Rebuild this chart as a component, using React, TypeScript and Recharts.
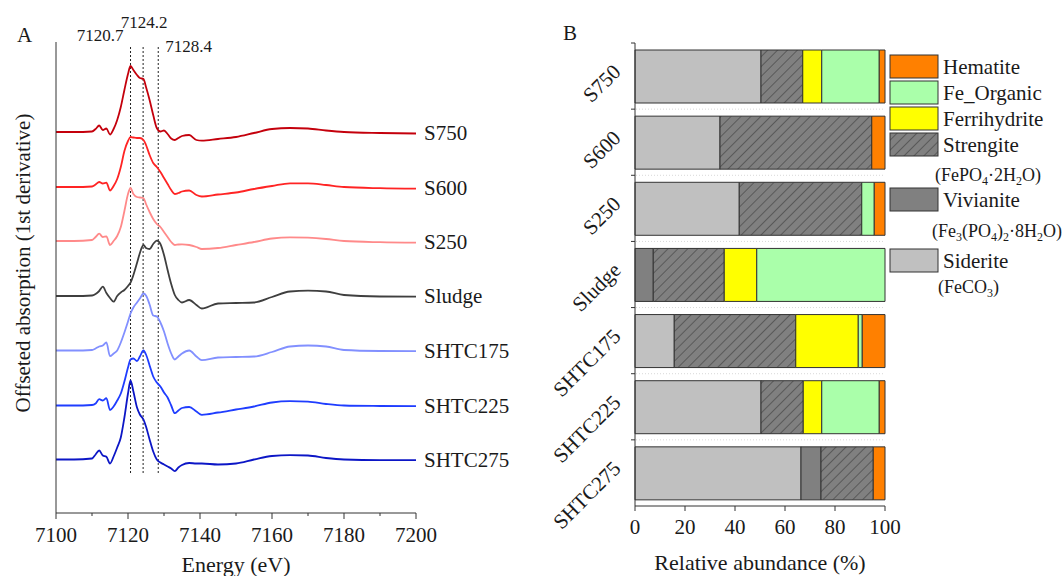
import React from "react";
import { Bar, BarChart, LabelList, Line, LineChart, ReferenceLine, XAxis, YAxis } from "recharts";

const FONT = '"Liberation Serif", "Times New Roman", serif';
const AXIS_COLOR = "#333";
const TEXT_COLOR = "#1a1a1a";

// ---- panel A: first-derivative XANES spectra (arbitrary units, offset per sample)
const ENERGY = [
  7100, 7105, 7110, 7111, 7112, 7113, 7114, 7115, 7116, 7117, 7118, 7119, 7120, 7120.7, 7121.5, 7122.5, 7123.3,
  7124.3, 7125, 7126, 7127, 7128, 7129, 7130, 7131, 7132, 7133, 7134, 7135, 7137, 7139, 7140.5, 7145, 7150, 7155,
  7160, 7165, 7170, 7175, 7180, 7190, 7200,
];

const S750 = [
  0, 0, 0.5, 3, 6.5, 2, 3.5, -2.5, 3, 12, 25, 42, 58, 66, 62, 57, 54, 53, 45, 32, 17, 4, 0.5, 1.5, -2, -6.5, -8, -6,
  -4, -3, -8, -8.7, -7, -5, -1, 3, 4, 3.5, 1.5, 0, -1, -1.5,
];
const S600 = [
  0, 0, 0.5, 2.5, 5, 3.5, 4.3, -3.5, 1, 8, 20, 36, 46, 50, 49.5, 49, 49, 47, 42, 32, 24, 20, 15, 9, 3, -3, -7, -6,
  -4.5, -3.5, -8, -9.5, -7.5, -5.5, -2, 1, 3.7, 3.7, 2, 0, -1.2, -1.7,
];
const S250 = [
  0, 0, 1, 4, 7.3, 4, 4.7, -4, 0, 5, 14, 30, 47, 53, 47, 44, 43.5, 43, 37, 29, 22, 17, 14, 9, 4, -1, -4, -3.5, -3.3,
  -4, -6, -8, -7, -4, -1, 2.5, 3.7, 3.3, 2, 0, -1.2, -1.7,
];
const SLUDGE = [
  0, 0, 0.5, 2, 5, 9.3, 3, -2, -5.7, 0, 3.5, 6, 10, 13.3, 21, 33, 43, 51, 48, 47, 52, 55.3, 52, 41, 26, 12, 1, -4,
  -6.5, -4, -9, -12.5, -7.5, -7, -6.5, -1, 4.5, 5.3, 4.5, 1, -0.5, -0.7,
];
const SHTC175 = [
  0, 0, 0.5, 2, 4, 5, 8, -5.7, -3, 0, 8, 18, 29, 37, 43, 48, 52, 57, 55, 46, 35, 34, 28, 19, 7, -3, -9, -6, -3, 0, -6,
  -9.7, -7, -6.5, -6, -1.5, 4, 5, 4, 0.5, -0.5, -0.7,
];
const SHTC225 = [
  0, 0, 0.5, 2, 6.3, 5, 7.3, -4.5, -1, 5, 12, 24, 38, 46, 47, 44.5, 49, 55, 51, 40, 29, 23, 19, 13, 8, 0, -7.7, -5,
  -2.5, -1.5, -6, -9.3, -7, -4, -1, 3, 4.3, 3.8, 1.5, 0, -0.5, -0.7,
];
const SHTC275 = [
  0, 0, 1, 5, 9, 4, 2.7, -4, 3, 12, 22, 42, 66, 79, 68, 52, 45, 40, 33, 20, 8, 0, -3, -5, -7, -9, -11.7, -8, -5.5,
  -3.5, -4, -4, -5, -4, 0, 3.5, 4.3, 4, 1.5, 0, -0.7, -0.7,
];

const SPECTRUM_NAMES = ["S750", "S600", "S250", "Sludge", "SHTC175", "SHTC225", "SHTC275"];
const SPECTRUM_VALUES = [S750, S600, S250, SLUDGE, SHTC175, SHTC225, SHTC275];
const SPECTRUM_OFFSETS = [381, 326, 272, 217, 162.5, 107.5, 53.5];
const SPECTRUM_COLORS = ["#c4000c", "#ff2424", "#ff8a8a", "#3f3f3f", "#8290ff", "#1f3dff", "#0c16c6"];

const EDGE_ENERGIES = [7120.7, 7124.2, 7128.4];
const EDGE_LINE_SPAN = [40, 466];
const ENERGY_TICKS = [7100, 7110, 7120, 7130, 7140, 7150, 7160, 7170, 7180, 7190, 7200];

// ---- panel B: linear combination fitting results (%)
const SAMPLES = ["S750", "S600", "S250", "Sludge", "SHTC175", "SHTC225", "SHTC275"];
const SIDERITE = [50.4, 34.0, 41.7, 0, 15.7, 50.4, 66.4];
const VIVIANITE = [0, 0, 0, 7.3, 0, 0, 8.0];
const STRENGITE = [16.7, 60.7, 49.0, 28.4, 48.6, 16.9, 20.9];
const FERRIHYDRITE = [7.6, 0, 0, 13.0, 25.0, 7.4, 0];
const FE_ORGANIC = [23.0, 0, 5.0, 51.3, 1.6, 23.0, 0];
const HEMATITE = [2.3, 5.3, 4.3, 0, 9.1, 2.3, 4.7];
const ABUNDANCE_TICKS = [0, 20, 40, 60, 80, 100];

const PHASES = ["Siderite", "Vivianite", "Strengite", "Ferrihydrite", "Fe_Organic", "Hematite"];
const PHASE_VALUES = [SIDERITE, VIVIANITE, STRENGITE, FERRIHYDRITE, FE_ORGANIC, HEMATITE];
const PHASE_FILLS = ["#c0c0c0", "#808080", "url(#hatch)", "#ffff00", "#aaffaa", "#ff8000"];

const spectraRows = ENERGY.map((energy, i) => {
  const row: Record<string, number> = { energy };
  SPECTRUM_NAMES.forEach((name, k) => {
    row[name] = SPECTRUM_VALUES[k][i] + SPECTRUM_OFFSETS[k];
  });
  return row;
});

const abundanceRows = SAMPLES.map((sample, i) => {
  const row: Record<string, string | number> = { sample };
  PHASES.forEach((phase, k) => {
    row[phase] = PHASE_VALUES[k][i];
  });
  return row;
});

const BAND_HALF = (506 - 43) / SAMPLES.length / 2;

function EnergyTick({ x, y, payload }: any) {
  const major = payload.value % 20 === 0;
  return (
    <g>
      <line x1={x} x2={x} y1={y} y2={y + (major ? 6 : 3)} stroke={AXIS_COLOR} />
      {major && (
        <text x={x} y={y + 29} textAnchor="middle" fontSize={21} fontFamily={FONT} fill={TEXT_COLOR}>
          {payload.value}
        </text>
      )}
    </g>
  );
}

function AbundanceTick({ x, y, payload }: any) {
  return (
    <g>
      <line x1={x} x2={x} y1={y} y2={y + 5} stroke={AXIS_COLOR} />
      <text x={x} y={y + 28} textAnchor="middle" fontSize={21} fontFamily={FONT} fill={TEXT_COLOR}>
        {payload.value}
      </text>
    </g>
  );
}

function SampleTick({ x, y, payload, index }: any) {
  const top = y - BAND_HALF;
  const tx = x - 13;
  const ty = y - 3;
  return (
    <g>
      <line x1={x - 4} x2={x} y1={top} y2={top} stroke={AXIS_COLOR} />
      {index > 0 && <line x1={x + 1} x2={x + 250} y1={top} y2={top} stroke="#d8d8d8" strokeDasharray="1 2" />}
      <text
        x={tx}
        y={ty}
        transform={`rotate(-45 ${tx} ${ty})`}
        textAnchor="end"
        fontSize={21}
        fontFamily={FONT}
        fill={TEXT_COLOR}
      >
        {payload.value}
      </text>
    </g>
  );
}

function endLabel(name: string) {
  return (props: any) => {
    if (props.index !== ENERGY.length - 1) return null;
    const px = props.viewBox?.x ?? props.x;
    const py = props.viewBox?.y ?? props.y;
    return (
      <text x={px + 8} y={py} dy="0.3em" fontSize={21} fontFamily={FONT} fill={TEXT_COLOR}>
        {name}
      </text>
    );
  };
}

const EDGE_LABEL_STYLE = [
  { anchor: "end", dx: -7, y: 41 },
  { anchor: "middle", dx: 1, y: 28 },
  { anchor: "start", dx: 7, y: 52 },
];

function edgeLabel(k: number) {
  return (props: any) => {
    const vx = props.viewBox?.x ?? 0;
    const s = EDGE_LABEL_STYLE[k];
    return (
      <text x={vx + s.dx} y={s.y} textAnchor={s.anchor} fontSize={17} fontFamily={FONT} fill={TEXT_COLOR}>
        {EDGE_ENERGIES[k]}
      </text>
    );
  };
}

function SpectraChart() {
  return (
    <LineChart width={530} height={576} data={spectraRows} margin={{ top: 42, right: 114, bottom: 33, left: 55 }}>
      <XAxis
        dataKey="energy"
        type="number"
        domain={[7100, 7200]}
        ticks={ENERGY_TICKS}
        interval={0}
        height={30}
        tickSize={0}
        tickMargin={0}
        tickLine={false}
        axisLine={{ stroke: AXIS_COLOR }}
        tick={<EnergyTick />}
      />
      <YAxis
        type="number"
        domain={[0, 471]}
        width={1}
        tick={false}
        tickLine={false}
        axisLine={{ stroke: AXIS_COLOR }}
      />
      {EDGE_ENERGIES.map((e, k) => (
        <ReferenceLine
          key={e}
          segment={[
            { x: e, y: EDGE_LINE_SPAN[0] },
            { x: e, y: EDGE_LINE_SPAN[1] },
          ]}
          stroke="#222"
          strokeDasharray="2 2"
          label={edgeLabel(k)}
        />
      ))}
      {SPECTRUM_NAMES.map((name, k) => (
        <Line
          key={name}
          dataKey={name}
          type="monotone"
          stroke={SPECTRUM_COLORS[k]}
          strokeWidth={1.8}
          dot={false}
          activeDot={false}
          isAnimationActive={false}
        >
          <LabelList dataKey={name} content={endLabel(name)} />
        </Line>
      ))}
    </LineChart>
  );
}

function AbundanceChart() {
  return (
    <BarChart
      width={534}
      height={576}
      layout="vertical"
      data={abundanceRows}
      margin={{ top: 43, right: 179, bottom: 40, left: 104 }}
      barSize={53}
    >
      <defs>
        <pattern id="hatch" width="7" height="7" patternUnits="userSpaceOnUse" patternTransform="rotate(45)">
          <rect width="7" height="7" fill="#808080" />
          <line x1="0" y1="0" x2="0" y2="7" stroke="#2a2a2a" strokeWidth="0.9" />
        </pattern>
      </defs>
      <XAxis
        type="number"
        domain={[0, 100]}
        ticks={ABUNDANCE_TICKS}
        interval={0}
        height={30}
        tickSize={0}
        tickMargin={0}
        tickLine={false}
        axisLine={{ stroke: AXIS_COLOR }}
        tick={<AbundanceTick />}
      />
      <YAxis
        type="category"
        dataKey="sample"
        width={1}
        interval={0}
        tickSize={0}
        tickMargin={0}
        tickLine={false}
        axisLine={{ stroke: AXIS_COLOR }}
        tick={<SampleTick />}
      />
      {PHASES.map((phase, k) => (
        <Bar
          key={phase}
          dataKey={phase}
          stackId="lcf"
          fill={PHASE_FILLS[k]}
          stroke={AXIS_COLOR}
          strokeWidth={1}
          isAnimationActive={false}
        />
      ))}
    </BarChart>
  );
}

const LEGEND_ORDER = ["Hematite", "Fe_Organic", "Ferrihydrite", "Strengite", "Vivianite", "Siderite"];
const LEGEND_BOX_TOPS = [55, 81, 107, 133, 188, 249];

function Sub({ children }: { children: React.ReactNode }) {
  return (
    <tspan fontSize={12} dy={4}>
      {children}
    </tspan>
  );
}

function Overlay() {
  const textProps = { fontFamily: FONT, fill: TEXT_COLOR };
  return (
    <svg width={1064} height={576} style={{ position: "absolute", left: 0, top: 0, pointerEvents: "none" }}>
      <defs>
        <pattern id="hatchLegend" width="7" height="7" patternUnits="userSpaceOnUse" patternTransform="rotate(45)">
          <rect width="7" height="7" fill="#808080" />
          <line x1="0" y1="0" x2="0" y2="7" stroke="#2a2a2a" strokeWidth="0.9" />
        </pattern>
      </defs>
      <text x={17} y={42} fontSize={21} {...textProps}>
        A
      </text>
      <text x={563} y={40} fontSize={21} {...textProps}>
        B
      </text>
      <text
        x={23}
        y={263}
        dy="0.35em"
        transform="rotate(-90 23 263)"
        textAnchor="middle"
        fontSize={21}
        {...textProps}
      >
        Offseted absorption (1st derivative)
      </text>
      <text x={236} y={572} textAnchor="middle" fontSize={22} {...textProps}>
        Energy (eV)
      </text>
      <text x={760} y={570} textAnchor="middle" fontSize={22} {...textProps}>
        Relative abundance (%)
      </text>

      {LEGEND_ORDER.map((phase, i) => {
        const k = PHASES.indexOf(phase);
        const fill = phase === "Strengite" ? "url(#hatchLegend)" : PHASE_FILLS[k];
        const top = LEGEND_BOX_TOPS[i];
        return (
          <g key={phase}>
            <rect x={890} y={top} width={48} height={23} fill={fill} stroke={AXIS_COLOR} />
            <text x={943} y={top + 12} dy="0.35em" fontSize={21} {...textProps}>
              {phase}
            </text>
          </g>
        );
      })}
      <text x={935} y={181} fontSize={18} {...textProps}>
        (FePO<Sub>4</Sub>
        <tspan dy={-4}>·2H</tspan>
        <Sub>2</Sub>
        <tspan dy={-4}>O)</tspan>
      </text>
      <text x={932} y={237} fontSize={18} {...textProps}>
        (Fe<Sub>3</Sub>
        <tspan dy={-4}>(PO</tspan>
        <Sub>4</Sub>
        <tspan dy={-4}>)</tspan>
        <Sub>2</Sub>
        <tspan dy={-4}>·8H</tspan>
        <Sub>2</Sub>
        <tspan dy={-4}>O)</tspan>
      </text>
      <text x={938} y={293} fontSize={18} {...textProps}>
        (FeCO<Sub>3</Sub>
        <tspan dy={-4}>)</tspan>
      </text>
    </svg>
  );
}

export default function App() {
  return (
    <div
      style={{
        position: "absolute",
        left: 0,
        top: 0,
        width: 1064,
        height: 576,
        background: "#fff",
        fontFamily: FONT,
      }}
    >
      <div style={{ position: "absolute", left: 0, top: 0 }}>
        <SpectraChart />
      </div>
      <div style={{ position: "absolute", left: 530, top: 0 }}>
        <AbundanceChart />
      </div>
      <Overlay />
    </div>
  );
}
